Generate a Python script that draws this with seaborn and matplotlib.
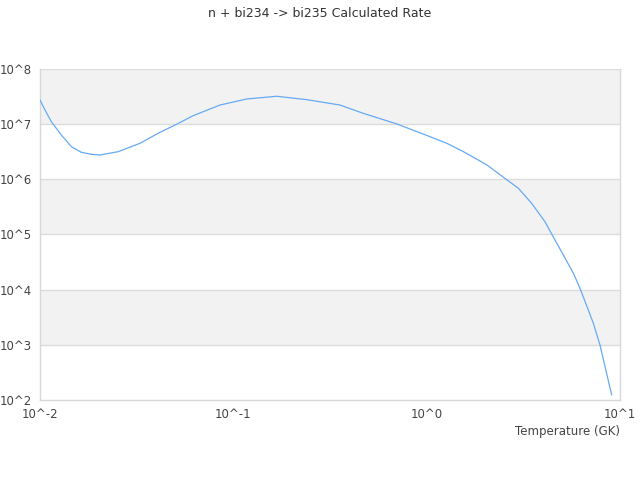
import matplotlib
matplotlib.use("Agg")
import matplotlib.pyplot as plt
import seaborn as sns
import pandas as pd

# rate curve (temperature in GK, rate)
temperature = [0.0100, 0.01061, 0.01144, 0.01289, 0.01452, 0.01635, 0.01842,
               0.0204, 0.0254, 0.0329, 0.0418, 0.0509, 0.0621, 0.0853, 0.1173,
               0.1676, 0.2396, 0.356, 0.470, 0.700, 1.04, 1.27, 1.55, 2.05,
               2.54, 2.98, 3.49, 4.09, 4.61, 5.09, 5.74, 6.21, 7.28, 7.88, 9.06]
rate = [2.74e7, 1.81e7, 1.11e7, 6.37e6, 3.91e6, 3.09e6, 2.84e6,
        2.76e6, 3.17e6, 4.50e6, 7.13e6, 9.95e6, 1.43e7, 2.22e7, 2.86e7,
        3.20e7, 2.78e7, 2.22e7, 1.57e7, 1.01e7, 5.93e6, 4.50e6, 3.17e6, 1.82e6,
        1.04e6, 6.89e5, 3.68e5, 1.71e5, 7.94e4, 4.26e4, 1.98e4, 1.06e4, 2.46e3, 9.9e2, 1.23e2]

x_ticks = [1e-2, 1e-1, 1e0, 1e1]
x_tick_labels = ["10^-2", "10^-1", "10^0", "10^1"]
y_ticks = [1e2, 1e3, 1e4, 1e5, 1e6, 1e7, 1e8]
y_tick_labels = ["10^2", "10^3", "10^4", "10^5", "10^6", "10^7", "10^8"]

title = "n + bi234 -> bi235 Calculated Rate"
xlabel = "Temperature (GK)"

sns.set_style("white")
plt.rcParams['font.family'] = ['DejaVu Sans']

df = pd.DataFrame({"T": temperature, "rate": rate})

fig = plt.figure(figsize=(6.4, 4.8), dpi=100)
ax = fig.add_axes([0.0625, 0.1667, 0.90625, 0.6896])

# alternating decade bands
for i in range(len(y_ticks) - 1):
    if (len(y_ticks) - 2 - i) % 2 == 0:
        ax.axhspan(y_ticks[i], y_ticks[i + 1], color="#f2f2f2", zorder=0, lw=0)
for yv in y_ticks[1:]:
    ax.axhline(yv, color="#dcdcdc", lw=1, zorder=1)

sns.lineplot(data=df, x="T", y="rate", ax=ax, color="#66aaf5", lw=0.9, zorder=3)

ax.set_xscale("log")
ax.set_yscale("log")
ax.set_xlim(1e-2, 1e1)
ax.set_ylim(1e2, 1e8)
ax.set_xticks(x_ticks)
ax.set_xticklabels(x_tick_labels)
ax.set_yticks(y_ticks)
ax.set_yticklabels(y_tick_labels)
ax.minorticks_off()
ax.tick_params(length=0, labelsize=8.5, colors="#444444", pad=6)
ax.set_xlabel(xlabel, fontsize=8.5, color="#444444", loc="right", labelpad=3)
ax.set_ylabel("")

for side in ["left", "right", "bottom"]:
    ax.spines[side].set_color("#d8d8d8")
    ax.spines[side].set_linewidth(1)
ax.spines["top"].set_visible(False)

fig.suptitle(title, fontsize=9, color="#333333", y=0.985)

fig.savefig("out.png", dpi=100)
